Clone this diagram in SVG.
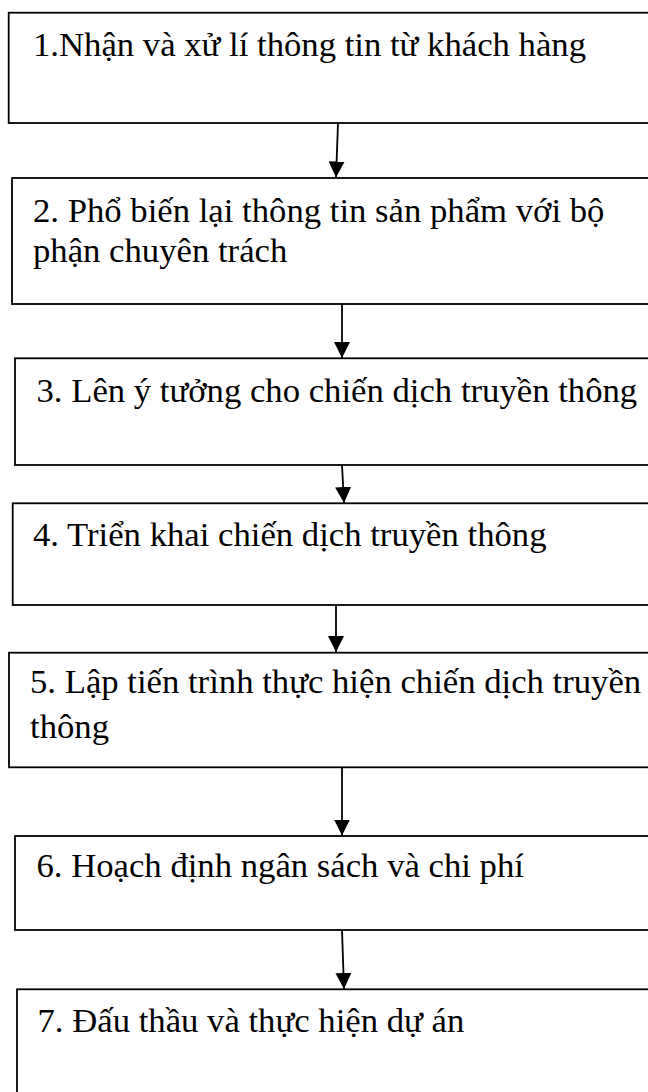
<svg xmlns="http://www.w3.org/2000/svg" width="648" height="1092" viewBox="0 0 648 1092">
  <style>
    .box { fill: #ffffff; stroke: #000000; stroke-width: 1.8; }
    .label { font-family: "Liberation Serif", "Times New Roman", serif; font-size: 34.7px; fill: #000000; }
    .conn { stroke: #000000; stroke-width: 1.8; fill: none; marker-end: url(#head); }
  </style>
  <defs>
    <marker id="head" markerUnits="userSpaceOnUse" markerWidth="16" markerHeight="16" viewBox="0 0 16 16" refX="16" refY="8" orient="auto">
      <path d="M0,0 L16,8 L0,16 Z" fill="#000000"/>
    </marker>
  </defs>
  <rect width="648" height="1092" fill="#ffffff"/>

  <!-- process steps; every box runs past the right edge of the page -->
  <g id="step1">
    <rect class="box" x="8.7" y="12.7" width="700" height="110.3"/>
    <text class="label" x="33" y="56">1.Nhận và xử lí thông tin từ khách hàng</text>
  </g>
  <g id="step2">
    <rect class="box" x="12" y="178" width="700" height="126"/>
    <text class="label" x="33" y="221.7">2. Phổ biến lại thông tin sản phẩm với bộ</text>
    <text class="label" x="33" y="261.7">phận chuyên trách</text>
  </g>
  <g id="step3">
    <rect class="box" x="15" y="358.3" width="700" height="106.7"/>
    <text class="label" x="36.5" y="401.7">3. Lên ý tưởng cho chiến dịch truyền thông</text>
  </g>
  <g id="step4">
    <rect class="box" x="12.7" y="503.3" width="700" height="101.7"/>
    <text class="label" x="33" y="546">4. Triển khai chiến dịch truyền thông</text>
  </g>
  <g id="step5">
    <rect class="box" x="9" y="652.7" width="700" height="114.6"/>
    <text class="label" x="30" y="693.3">5. Lập tiến trình thực hiện chiến dịch truyền</text>
    <text class="label" x="30" y="738.3">thông</text>
  </g>
  <g id="step6">
    <rect class="box" x="15" y="836" width="700" height="94"/>
    <text class="label" x="36.5" y="877.3">6. Hoạch định ngân sách và chi phí</text>
  </g>
  <g id="step7">
    <rect class="box" x="17" y="989.3" width="700" height="200"/>
    <text class="label" x="37.5" y="1031.7">7. Đấu thầu và thực hiện dự án</text>
  </g>

  <!-- downward connectors between consecutive steps -->
  <g id="connectors">
    <line class="conn" x1="338" y1="123" x2="336" y2="177.5"/>
    <line class="conn" x1="342" y1="304" x2="342" y2="358"/>
    <line class="conn" x1="342" y1="465" x2="344" y2="503"/>
    <line class="conn" x1="336" y1="605" x2="336" y2="652"/>
    <line class="conn" x1="342" y1="767" x2="342" y2="835.5"/>
    <line class="conn" x1="342" y1="930" x2="344" y2="989"/>
  </g>
</svg>
